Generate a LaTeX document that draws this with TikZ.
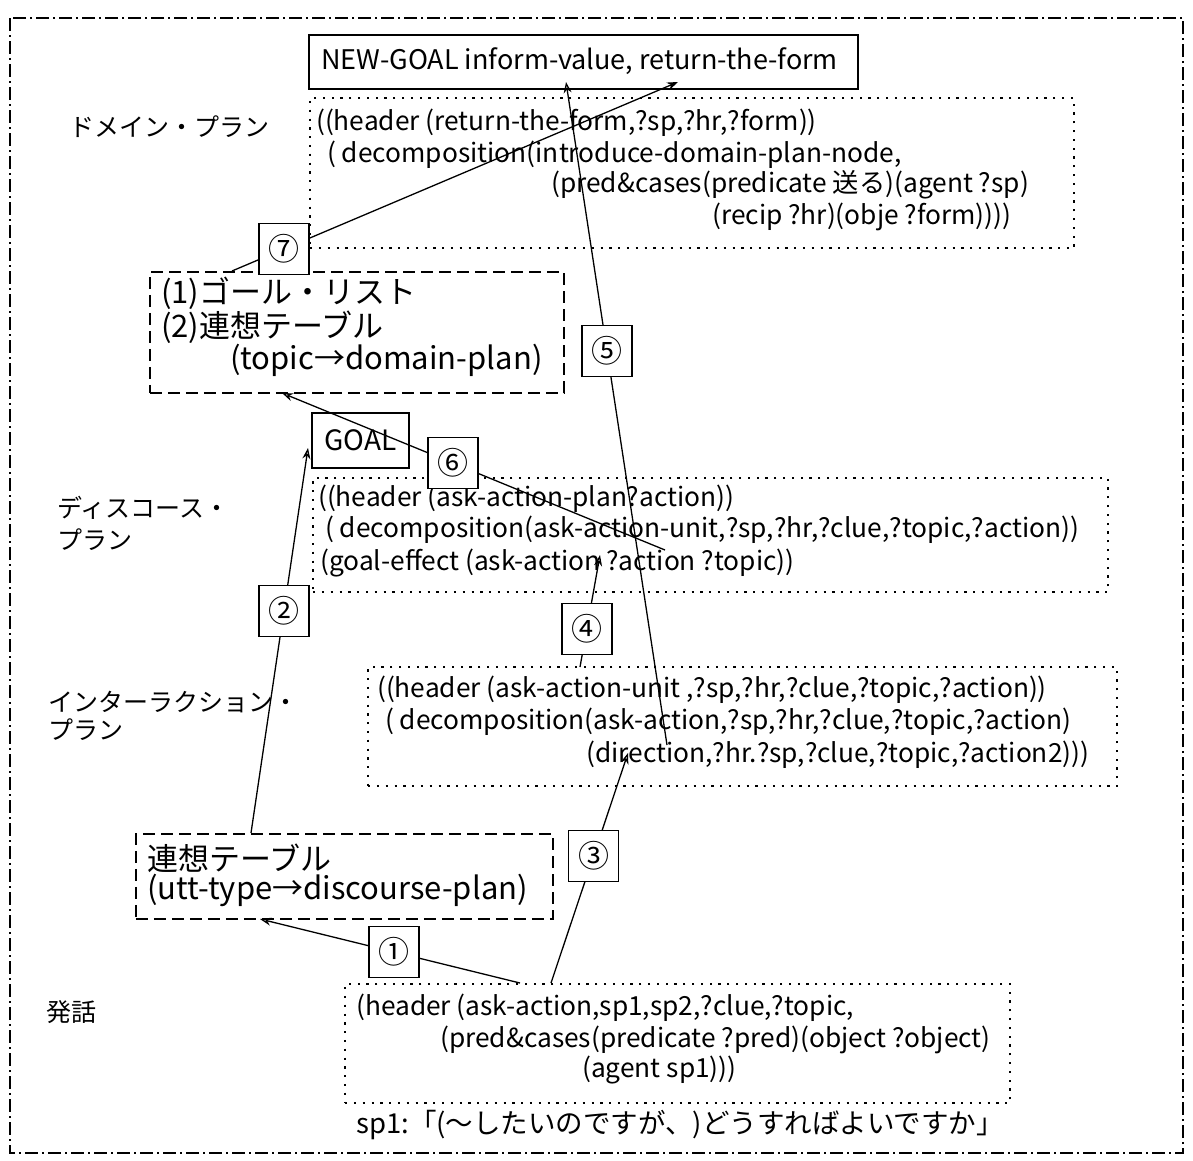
\documentclass[tikz,border=0pt]{standalone}
\usepackage{fontspec}
\setmainfont{Noto Sans CJK JP}
\usetikzlibrary{arrows.meta}
\begin{document}
\begin{tikzpicture}[x=1pt,y=-1pt,
  frame/.style={draw, line width=1.4pt, dash pattern=on 13pt off 4pt on 2pt off 4pt},
  dotbox/.style={draw, line width=2.2pt, dash pattern=on 2.2pt off 6.6pt, anchor=north west, inner sep=0pt},
  dashbox/.style={draw, line width=1.6pt, dash pattern=on 12pt off 6pt, anchor=north west, inner sep=0pt},
  solidbox/.style={draw, line width=1.6pt, anchor=north west, inner sep=0pt},
  txt/.style={anchor=west, inner sep=0pt, font=\fontsize{26.3}{30}\selectfont},
  bigtxt/.style={anchor=west, inner sep=0pt, font=\fontsize{31}{34}\selectfont},
  jlab/.style={anchor=west, inner sep=0pt, font=\fontsize{25}{30}\selectfont},
  numbox/.style={draw, fill=white, line width=1.6pt, minimum width=50pt, minimum height=51pt, inner sep=0pt, font=\fontsize{31}{31}\selectfont},
  link/.style={line width=1.3pt},
  arr/.style={link, -{Stealth[open, length=11pt, width=8pt]}},
  arrfill/.style={link, -{Stealth[length=11pt, width=8pt]}}
]
\useasboundingbox (0,0) rectangle (1193,1160);

% outer frame
\draw[frame] (10,18) rectangle (1183,1153);

% level labels
\node[jlab] (lbdom) at (69,127) {ドメイン・プラン};
\node[jlab] (lbdis1) at (57,508) {ディスコース・};
\node[jlab] (lbdis2) at (57,540) {プラン};
\node[jlab] (lbint1) at (48,702) {インターラクション・};
\node[jlab] (lbint2) at (48,730) {プラン};
\node[jlab] (lbutt) at (46,1012) {発話};

% NEW-GOAL box
\node[solidbox, minimum width=549pt, minimum height=54pt] (newgoal) at (308,34) {};
\node[txt, font=\fontsize{27}{30}\selectfont] (ngt) at (321,61) {NEW-GOAL inform-value, return-the-form};

% domain plan
\node[dotbox, minimum width=764pt, minimum height=150pt] (dom) at (309,97) {};
\node[txt] (d1) at (316,123) {((header (return-the-form,?sp,?hr,?form))};
\node[txt] (d2) at (327,155) {( decomposition(introduce-domain-plan-node,};
\node[txt] (d3) at (551,185) {(pred\&cases(predicate 送る)(agent ?sp)};
\node[txt] (d4) at (712,217) {(recip ?hr)(obje ?form))))};

% goal list / association table
\node[dashbox, minimum width=414pt, minimum height=121pt] (glist) at (149,271) {};
\node[bigtxt] (g1) at (161,293) {(1)ゴール・リスト};
\node[bigtxt] (g2) at (161,327) {(2)連想テーブル};
\node[bigtxt] (g3) at (230,360) {(topic→domain-plan)};

% GOAL box
\node[solidbox, minimum width=97pt, minimum height=55pt] (goal) at (311,412) {};
\node[txt, anchor=center, font=\fontsize{28}{30}\selectfont] (goalt) at (goal.center) {GOAL};

% discourse plan
\node[dotbox, minimum width=795pt, minimum height=114pt] (disc) at (312,477) {};
\node[txt] (p1) at (318,499) {((header (ask-action-plan?action))};
\node[txt] (p2) at (325,530) {( decomposition(ask-action-unit,?sp,?hr,?clue,?topic,?action))};
\node[txt] (p3) at (320,563) {(goal-effect (ask-action ?action ?topic))};

% interaction plan
\node[dotbox, minimum width=749pt, minimum height=119pt] (inter) at (367,666) {};
\node[txt] (i1) at (377,690) {((header (ask-action-unit ,?sp,?hr,?clue,?topic,?action))};
\node[txt] (i2) at (385,722) {( decomposition(ask-action,?sp,?hr,?clue,?topic,?action)};
\node[txt] (i3) at (586,755) {(direction,?hr.?sp,?clue,?topic,?action2)))};

% utterance-type table
\node[dashbox, minimum width=417pt, minimum height=85pt] (utt) at (135,833) {};
\node[bigtxt] (u1) at (147,858) {連想テーブル};
\node[bigtxt] (u2) at (147,890) {(utt-type→discourse-plan)};

% utterance
\node[dotbox, minimum width=665pt, minimum height=119pt] (bot) at (344,983) {};
\node[txt] (b1) at (356,1008) {(header (ask-action,sp1,sp2,?clue,?topic,};
\node[txt] (b2) at (440,1040) {(pred\&cases(predicate ?pred)(object ?object)};
\node[txt] (b3) at (582,1070) {(agent sp1)))};
\node[txt, font=\fontsize{27.5}{30}\selectfont] (sp) at (356,1125) {sp1:「(〜したいのですが、)どうすればよいですか」};

% connector end points
\coordinate (s1) at (520,983);  \coordinate (t1) at (260,919);
\coordinate (s2) at (251,833);  \coordinate (t2) at (308,448);
\coordinate (s3) at (551,983);  \coordinate (t3) at (628,753);
\coordinate (s4) at (580,667);  \coordinate (t4) at (600,555);
\coordinate (s5) at (667,745);  \coordinate (t5) at (566,82);
\coordinate (s6) at (665,550);  \coordinate (t6) at (282,393);
\coordinate (s7) at (232,271);  \coordinate (t7) at (678,82);

% numbered connectors
\draw[arr] (s1) -- node[numbox, pos=0.485] (n1) {①} (t1);
\draw[arr] (s2) -- node[numbox, pos=0.577] (n2) {②} (t2);
\draw[arr] (s3) -- node[numbox, pos=0.552] (n3) {③} (t3);
\draw[arr] (s4) -- node[numbox, pos=0.34] (n4) {④} (t4);
\draw[arr] (s5) -- node[numbox, pos=0.594] (n5) {⑤} (t5);
\draw[arr] (s6) -- node[numbox, pos=0.554] (n6) {⑥} (t6);
\draw[arrfill] (s7) -- node[numbox, pos=0.117] (n7) {⑦} (t7);
\end{tikzpicture}
\end{document}
